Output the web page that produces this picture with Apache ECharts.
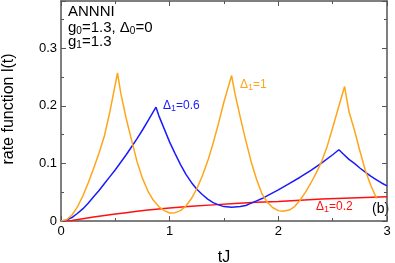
<!DOCTYPE html>
<html><head><meta charset="utf-8">
<script src="https://cdn.jsdelivr.net/npm/echarts@6/dist/echarts.min.js"></script>
<style>html,body{margin:0;padding:0;background:#fff}#c{width:395px;height:263px}</style>
</head><body><div id="c"></div>
<script>
// Δ1 = 1 (orange)
const orangeT = [0,0.05,0.1,0.15,0.2,0.25,0.3,0.35,0.4,0.45,0.52,
  0.55,0.6,0.65,0.7,0.75,0.8,0.85,0.9,0.95,1.0,1.02,
  1.05,1.1,1.15,1.2,1.25,1.3,1.35,1.4,1.45,1.5,1.57,
  1.6,1.65,1.7,1.75,1.8,1.85,1.9,1.95,2.0,2.04,
  2.1,2.15,2.2,2.25,2.3,2.35,2.4,2.45,2.5,2.55,2.61,
  2.65,2.7,2.75,2.8,2.85,2.9,2.905];
const orangeL = [0,0.002,0.010,0.024,0.043,0.066,0.091,0.118,0.148,0.190,0.257,
  0.222,0.178,0.140,0.103,0.074,0.052,0.036,0.025,0.018,0.014,0.014,
  0.0145,0.018,0.026,0.039,0.056,0.078,0.104,0.135,0.170,0.207,0.2525,
  0.222,0.18,0.14,0.103,0.072,0.047,0.032,0.023,0.018,0.0168,
  0.019,0.025,0.036,0.050,0.066,0.084,0.104,0.13,0.162,0.195,0.2335,
  0.19,0.158,0.122,0.088,0.062,0.041,0.039];
// Δ1 = 0.6 (blue)
const blueT = [0,0.05,0.1,0.15,0.2,0.25,0.3,0.35,0.4,0.45,0.5,0.55,0.6,0.65,0.7,0.75,0.8,0.874,
  0.9,0.95,1.0,1.05,1.1,1.15,1.2,1.25,1.3,1.35,1.4,1.45,1.5,1.57,
  1.65,1.7,1.75,1.8,1.85,1.9,2.0,2.1,2.2,2.3,2.4,2.5,2.557,
  2.6,2.65,2.7,2.75,2.8,2.85,2.9,2.95,3.0];
const blueL = [0,0.0015,0.006,0.013,0.021,0.031,0.042,0.053,0.065,0.077,0.089,0.102,0.115,0.129,0.143,0.158,0.174,0.1976,
  0.183,0.16,0.137,0.117,0.098,0.081,0.067,0.055,0.046,0.038,0.032,0.028,0.025,0.024,
  0.025,0.027,0.031,0.035,0.039,0.044,0.054,0.065,0.076,0.088,0.101,0.115,0.1237,
  0.116,0.107,0.1,0.092,0.085,0.078,0.072,0.066,0.061];
// Δ1 = 0.2 (red)
const redT = [0,0.1,0.2,0.3,0.4,0.5,0.6,0.7,0.8,0.9,1.0,1.2,1.4,1.6,1.8,2.0,2.2,2.4,2.6,2.8,3.0];
const redL = [0,0.001,0.004,0.007,0.0095,0.012,0.0145,0.017,0.019,0.021,0.0225,0.0255,0.028,0.0305,0.0325,0.034,0.036,0.038,0.0395,0.041,0.042];

const xTicks = [0,1,2,3];
const yTicks = [0,0.1,0.2,0.3];

const pairs = (t, l) => t.map((v, i) => [v, l[i]]);
const chart = echarts.init(document.getElementById('c'), null, {renderer: 'canvas'});
const FONT = 'Liberation Sans, Arial, sans-serif';
const axisColor = '#555';
const common = {
  axisLine: {show: true, onZero: false, lineStyle: {color: axisColor, width: 1.5}},
  axisTick: {show: true, inside: true, length: 5, lineStyle: {color: axisColor, width: 1}},
  minorTick: {show: true, splitNumber: 2, length: 3, lineStyle: {color: axisColor, width: 1}},
  splitLine: {show: false}
};
const subS = {fontSize: 10, fontFamily: FONT, verticalAlign: 'bottom', padding: [7, 0, 0, 0]};
const subL = {fontSize: 9, fontFamily: FONT, verticalAlign: 'bottom', padding: [6, 0, 0, 0]};
chart.setOption({
  animation: false,
  grid: {left: 61, right: 8, top: 1, bottom: 42, containLabel: false, outerBoundsMode: 'none'},
  xAxis: [
    Object.assign({type: 'value', min: 0, max: 3, interval: 1, name: 'tJ', nameLocation: 'middle', nameGap: 29,
      nameTextStyle: {fontSize: 16, color: '#000', fontFamily: FONT},
      axisLabel: {fontSize: 13, color: '#000', fontFamily: FONT, margin: 4,
        formatter: v => xTicks.includes(v) ? String(v) : ''}}, common),
    Object.assign({type: 'value', min: 0, max: 3, interval: 1, position: 'top', axisLabel: {show: false}}, common)
  ],
  yAxis: [
    Object.assign({type: 'value', min: 0, max: 0.382, interval: 0.1,
      axisLabel: {fontSize: 13, color: '#000', fontFamily: FONT, margin: 4,
        formatter: v => { const m = yTicks.find(k => Math.abs(k - v) < 1e-9); return m === undefined ? '' : (m === 0 ? '0' : String(m)); }}}, common),
    Object.assign({type: 'value', min: 0, max: 0.382, interval: 0.1, position: 'right', axisLabel: {show: false}}, common)
  ],
  series: [
    {type: 'line', name: 'Δ1=0.2', data: pairs(redT, redL), showSymbol: false, lineStyle: {color: '#ff1010', width: 1.5}, z: 3},
    {type: 'line', name: 'Δ1=0.6', data: pairs(blueT, blueL), showSymbol: false, lineStyle: {color: '#1a1aff', width: 1.5}, z: 4},
    {type: 'line', name: 'Δ1=1', data: pairs(orangeT, orangeL), showSymbol: false, lineStyle: {color: '#ffa51a', width: 1.5}, z: 5}
  ],
  graphic: [
    {type: 'text', x: 9, y: 109, rotation: Math.PI / 2,
      style: {text: 'rate function l(t)', fontSize: 16, fontFamily: FONT, fill: '#000', align: 'center', verticalAlign: 'middle'}},
    {type: 'text', left: 68, top: 4, style: {text: 'ANNNI', fontSize: 15, fontFamily: FONT, fill: '#000'}},
    {type: 'text', left: 68, top: 20, style: {text: 'g{s|0}=1.3, Δ{s|0}=0', fontSize: 15, fontFamily: FONT, fill: '#000', rich: {s: subS}}},
    {type: 'text', left: 68, top: 34, style: {text: 'g{s|1}=1.3', fontSize: 15, fontFamily: FONT, fill: '#000', rich: {s: subS}}},
    {type: 'text', left: 163, top: 100, style: {text: 'Δ{s|1}=0.6', fontSize: 12, fontFamily: FONT, fill: '#1a1aff', rich: {s: subL}}},
    {type: 'text', left: 240, top: 79, style: {text: 'Δ{s|1}=1', fontSize: 12, fontFamily: FONT, fill: '#ffa51a', rich: {s: subL}}},
    {type: 'text', left: 316, top: 201, style: {text: 'Δ{s|1}=0.2', fontSize: 12, fontFamily: FONT, fill: '#ff1010', rich: {s: subL}}},
    {type: 'text', left: 372, top: 202, style: {text: '(b)', fontSize: 14, fontFamily: FONT, fill: '#000'}}
  ]
});
</script></body></html>
